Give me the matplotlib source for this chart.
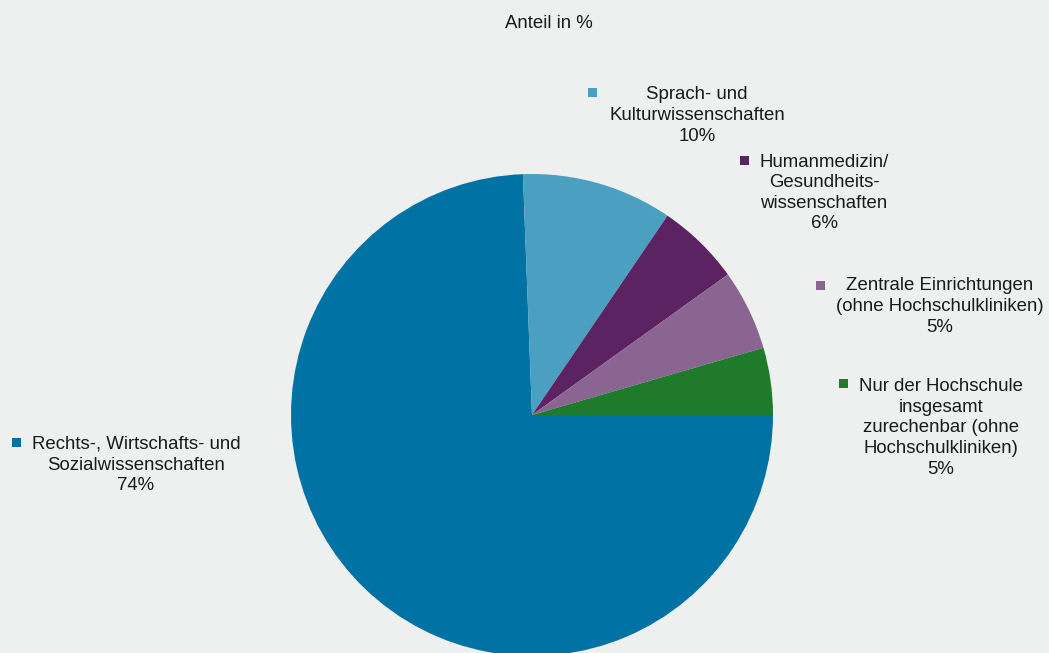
import matplotlib.pyplot as plt

plt.rcParams['font.family'] = ['Liberation Sans', 'DejaVu Sans']

# Shares of the pie (start at 3 o'clock, clockwise)
categories = [
    'Rechts-, Wirtschafts- und\nSozialwissenschaften',
    'Sprach- und\nKulturwissenschaften',
    'Humanmedizin/\nGesundheits-\nwissenschaften',
    'Zentrale Einrichtungen\n(ohne Hochschulkliniken)',
    'Nur der Hochschule\ninsgesamt\nzurechenbar (ohne\nHochschulkliniken)',
]
shares = [74.4, 10.1, 5.6, 5.4, 4.5]
pct_labels = ['74%', '10%', '6%', '5%', '5%']
colors = ['#0072a3', '#4b9fc1', '#5c2363', '#8a6592', '#207a2c']

bg = '#eef0ef'
W, H = 1049, 653
fig = plt.figure(figsize=(W / 100, H / 100), dpi=100, facecolor=bg)

# pie centre (532, 415) px from top, radius 241 px
cx, cy, r = 532, 415, 241
ax = fig.add_axes([(cx - r) / W, (H - cy - r) / H, 2 * r / W, 2 * r / H])
ax.set_facecolor(bg)
ax.pie(shares, colors=colors, startangle=0, counterclock=False, radius=1,
       wedgeprops=dict(linewidth=0))
ax.set_xlim(-1, 1)
ax.set_ylim(-1, 1)
ax.set_aspect('equal')
ax.axis('off')

# label block centres and marker positions (pixels from top-left)
label_pos = [(136, 465), (697, 115.5), (824, 193), (940, 306.5), (941, 428)]
marker_pos = [(16, 442.5), (592.5, 92.5), (744, 160), (820, 285), (843, 383.5)]

for cat, pct, col, (lx, ly), (mx, my) in zip(categories, pct_labels, colors,
                                             label_pos, marker_pos):
    fig.text(lx / W, 1 - ly / H, f'{cat}\n{pct}', ha='center', va='center',
             multialignment='center', fontsize=13.4, linespacing=1.27,
             color='#1a1a1a')
    fig.patches.append(plt.Rectangle(((mx - 4.5) / W, 1 - (my + 4.5) / H),
                                     9 / W, 9 / H, transform=fig.transFigure,
                                     facecolor=col, edgecolor='none'))

fig.text(549 / W, 1 - 23 / H, 'Anteil in %', ha='center', va='center',
         fontsize=13.4, color='#1a1a1a')

fig.savefig('out.png', dpi=100, facecolor=bg)
